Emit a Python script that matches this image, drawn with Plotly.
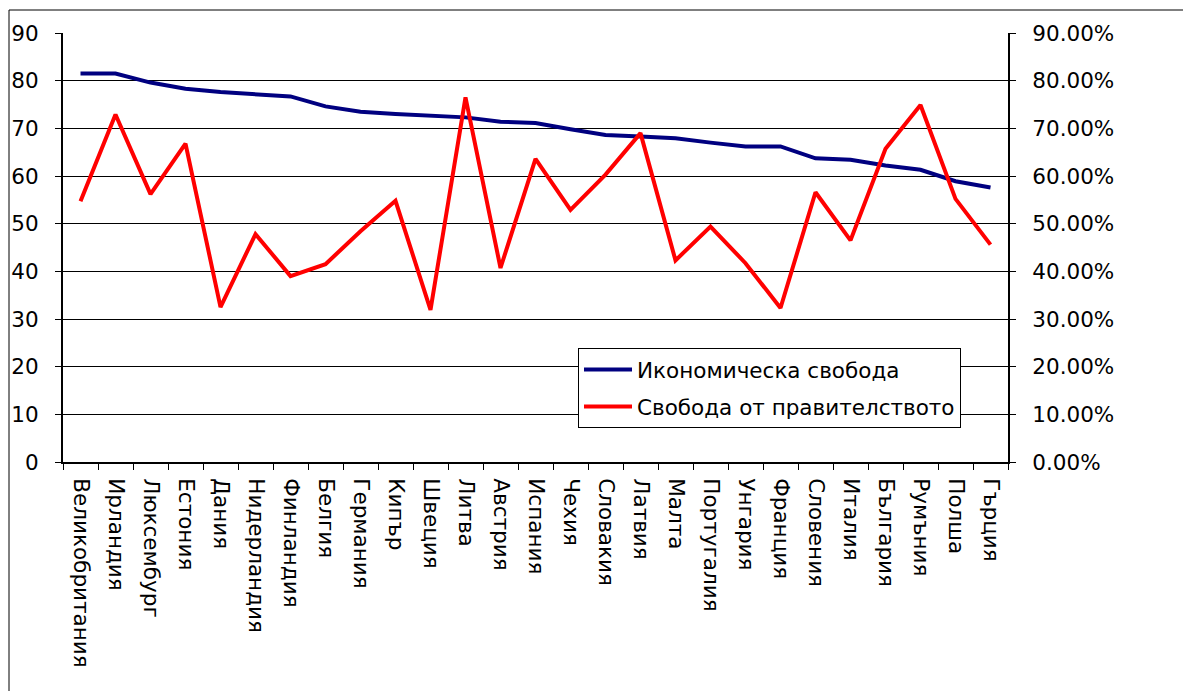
import plotly.graph_objects as go

countries = ["Великобритания", "Ирландия", "Люксембург", "Естония", "Дания", "Нидерландия",
             "Финландия", "Белгия", "Германия", "Кипър", "Швеция", "Литва", "Австрия",
             "Испания", "Чехия", "Словакия", "Латвия", "Малта", "Португалия", "Унгария",
             "Франция", "Словения", "Италия", "България", "Румъния", "Полша", "Гърция"]

economic_freedom = [81.5, 81.5, 79.6, 78.3, 77.6, 77.2, 76.7, 74.6, 73.5, 73.0, 72.6, 72.3,
                    71.4, 71.1, 69.8, 68.6, 68.3, 67.9, 67.0, 66.2, 66.2, 63.7, 63.4, 62.2,
                    61.3, 58.9, 57.6]

gov_freedom = [0.547, 0.729, 0.562, 0.668, 0.325, 0.478, 0.390, 0.415, 0.484, 0.548, 0.319,
               0.765, 0.407, 0.636, 0.529, 0.603, 0.690, 0.423, 0.494, 0.417, 0.323, 0.566,
               0.465, 0.657, 0.749, 0.552, 0.456]

left_ticks = list(range(0, 91, 10))
right_ticks = [v / 100 for v in left_ticks]

FONT = "DejaVu Sans"
FS = 21.5
fig = go.Figure()
fig.add_trace(go.Scatter(x=countries, y=economic_freedom, mode="lines",
                         name="Икономическа свобода", legendgroup="a",
                         line=dict(color="#000080", width=4)))
fig.add_trace(go.Scatter(x=countries, y=gov_freedom, mode="lines", yaxis="y2",
                         name="Свобода от правителството", legendgroup="b",
                         line=dict(color="#FF0000", width=4)))

L, T, R, B = 63, 33, 175, 229
W, H = 1183, 691
pw = W - L - R
ph = H - T - B

def px(x):
    return (x - L) / pw

def py(y):
    return (H - B - y) / ph

fig.update_layout(
    width=W, height=H,
    margin=dict(l=L, r=R, t=T, b=B, pad=0),
    paper_bgcolor="white", plot_bgcolor="white",
    font=dict(family=FONT, size=FS, color="black"),
    showlegend=True,
    legend=dict(x=px(578), y=py(348), xanchor="left", yanchor="top",
                bgcolor="white", bordercolor="black", borderwidth=1,
                font=dict(family=FONT, size=FS, color="black"),
                itemwidth=48,
                traceorder="grouped", tracegroupgap=6),
    xaxis=dict(type="category", tickson="boundaries", tickangle=90,
               ticks="outside", ticklen=6, tickcolor="black", tickwidth=1,
               showline=True, linecolor="black", linewidth=2, showgrid=False,
               tickfont=dict(family=FONT, size=FS), ticklabelstandoff=10,
               range=[-0.5, len(countries) - 0.5]),
    yaxis=dict(range=[0, 90], tickvals=left_ticks, ticks="outside", ticklen=6,
               tickcolor="black", showline=True, linecolor="black", linewidth=2,
               showgrid=True, gridcolor="black", gridwidth=1, zeroline=False,
               tickfont=dict(family=FONT, size=FS), ticklabelstandoff=12),
    yaxis2=dict(range=[0, 0.9], tickvals=right_ticks, tickformat=".2%",
                overlaying="y", side="right", ticks="outside", ticklen=6,
                tickcolor="black", showline=True, linecolor="black", linewidth=2,
                showgrid=False, zeroline=False,
                tickfont=dict(family=FONT, size=FS), ticklabelstandoff=12),
    shapes=[dict(type="rect", xref="paper", yref="paper",
                 x0=px(9), x1=px(W + 20), y0=py(H + 20), y1=py(10),
                 line=dict(color="black", width=1), layer="below")],
)

fig.write_html("out.html", config={"displayModeBar": False},
               post_script="document.body.style.margin='0';document.body.style.overflow='hidden';")
